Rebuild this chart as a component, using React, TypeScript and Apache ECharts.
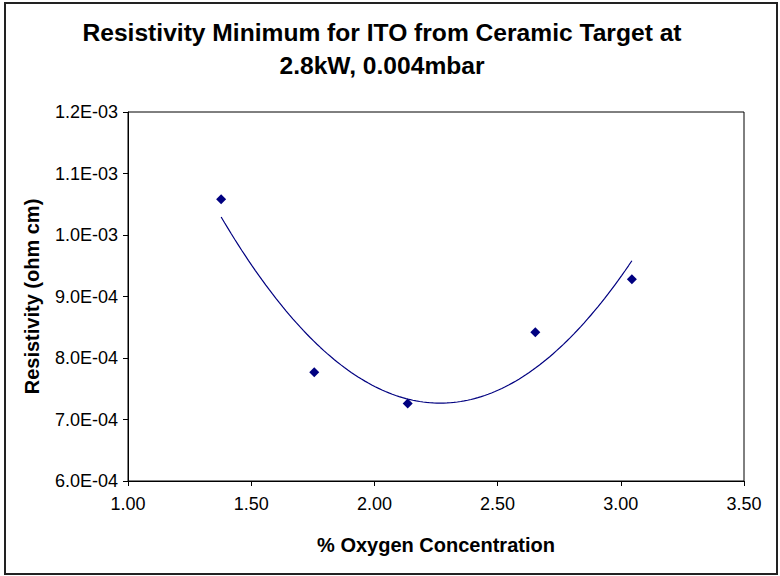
import React, { useEffect, useRef } from "react";
import * as echarts from "echarts";

const oxygen = [1.378, 1.756, 2.135, 2.653, 3.045];
const resistivity = [1.058e-3, 7.77e-4, 7.26e-4, 8.42e-4, 9.28e-4];
const titleLines = ["Resistivity Minimum for ITO from Ceramic Target at", "2.8kW, 0.004mbar"];
const xName = "% Oxygen Concentration";
const yName = "Resistivity (ohm cm)";

// Excel-style 2nd order polynomial trendline (least squares fit of the data)
function quadFit(xs: number[], ys: number[]) {
  const n = xs.length;
  let s1 = 0, s2 = 0, s3 = 0, s4 = 0, t0 = 0, t1 = 0, t2 = 0;
  for (let i = 0; i < n; i++) {
    const x = xs[i], y = ys[i];
    s1 += x; s2 += x * x; s3 += x * x * x; s4 += x * x * x * x;
    t0 += y; t1 += x * y; t2 += x * x * y;
  }
  const A = [
    [n, s1, s2, t0],
    [s1, s2, s3, t1],
    [s2, s3, s4, t2],
  ];
  for (let c = 0; c < 3; c++) {
    let p = c;
    for (let r = c + 1; r < 3; r++) if (Math.abs(A[r][c]) > Math.abs(A[p][c])) p = r;
    [A[c], A[p]] = [A[p], A[c]];
    for (let r = 0; r < 3; r++) {
      if (r === c) continue;
      const f = A[r][c] / A[c][c];
      for (let k = c; k < 4; k++) A[r][k] -= f * A[c][k];
    }
  }
  return [A[0][3] / A[0][0], A[1][3] / A[1][1], A[2][3] / A[2][2]];
}

function fmtExp(v: number) {
  const [m, e] = v.toExponential(1).split("e");
  const ex = parseInt(e, 10);
  return m + "E" + (ex < 0 ? "-" : "+") + String(Math.abs(ex)).padStart(2, "0");
}

export default function App() {
  const ref = useRef<HTMLDivElement>(null);
  useEffect(() => {
    if (!ref.current) return;
    const chart = echarts.init(ref.current, null, { renderer: "svg" });
    const [c0, c1, c2] = quadFit(oxygen, resistivity);
    const xmin = Math.min(...oxygen), xmax = Math.max(...oxygen);
    const trend: number[][] = [];
    const N = 120;
    for (let i = 0; i <= N; i++) {
      const x = xmin + ((xmax - xmin) * i) / N;
      trend.push([x, c0 + c1 * x + c2 * x * x]);
    }
    const font = "Arial, 'Liberation Sans', sans-serif";
    chart.setOption({
      animation: false,
      backgroundColor: "#ffffff",
      title: {
        text: titleLines.join("\n"),
        left: 377,
        top: 11,
        textAlign: "center",
        textStyle: { fontFamily: font, fontSize: 24.6, fontWeight: "bold", color: "#000", lineHeight: 33 },
      },
      graphic: [
        {
          type: "rect",
          shape: { x: 5, y: 3, width: 772, height: 571 },
          style: { fill: "none", stroke: "#222", lineWidth: 2 },
          silent: true,
        },
      ],
      grid: { left: 128, right: 36, top: 112, bottom: 95, show: true, borderColor: "#000", borderWidth: 1 },
      xAxis: {
        type: "value",
        min: 1,
        max: 3.5,
        interval: 0.5,
        name: xName,
        nameLocation: "middle",
        nameGap: 54,
        nameTextStyle: { fontFamily: font, fontSize: 20, fontWeight: "bold", color: "#000" },
        axisLine: { lineStyle: { color: "#000", width: 1 } },
        axisTick: { show: true, length: 5, lineStyle: { color: "#000" } },
        axisLabel: { fontFamily: font, fontSize: 18, color: "#000", margin: 14, formatter: (v: number) => v.toFixed(2) },
        splitLine: { show: false },
      },
      yAxis: {
        type: "value",
        min: 6e-4,
        max: 1.2e-3,
        interval: 1e-4,
        name: yName,
        nameLocation: "middle",
        nameGap: 86,
        nameTextStyle: { fontFamily: font, fontSize: 20, fontWeight: "bold", color: "#000" },
        axisLine: { show: true, lineStyle: { color: "#000", width: 1 } },
        axisTick: { show: true, length: 5, lineStyle: { color: "#000" } },
        axisLabel: { fontFamily: font, fontSize: 18, color: "#000", margin: 10, formatter: (v: number) => fmtExp(v) },
        splitLine: { show: false },
      },
      series: [
        {
          type: "line",
          data: trend,
          showSymbol: false,
          symbol: "none",
          lineStyle: { color: "#000080", width: 1.2 },
          z: 2,
        },
        {
          type: "scatter",
          data: oxygen.map((x, i) => [x, resistivity[i]]),
          symbol: "diamond",
          symbolSize: 10,
          itemStyle: { color: "#000080", opacity: 1 },
          z: 3,
        },
      ],
    });
    return () => chart.dispose();
  }, []);
  return <div ref={ref} style={{ position: "absolute", left: 0, top: 0, width: 780, height: 576 }} />;
}
